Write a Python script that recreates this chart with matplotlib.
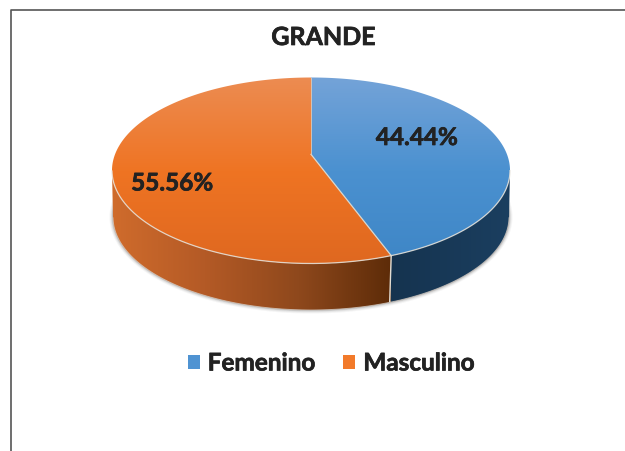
# -*- coding: utf-8 -*-
import numpy as np
from matplotlib import pyplot as plt
from matplotlib import patheffects as pe
from matplotlib.colors import LinearSegmentedColormap
from matplotlib.patches import Patch, Polygon

title = "GRANDE"
categories = ["Femenino", "Masculino"]
shares = [44.44, 55.56]
labels = ["44.44%", "55.56%"]
legend_colors = ["#4F93D2", "#F27A2A"]

top_colors = [["#74A3D8", "#4B91D0", "#3E86C6"], ["#EC8C52", "#EF7423", "#DF6820"]]
side_colors = [["#15334F", "#1B3F60"], ["#D06C2C", "#B45A26", "#8E481C", "#5C2B08"]]

# pie position on the page, in pixels
cx, cy, rx, ry = 311, 171.5, 199, 93
hub_shift = 0.174  # the centre looks higher than the ellipse middle (perspective)
depth = 46.5

plt.rcParams["font.family"] = ["Lato", "DejaVu Sans"]
plt.rcParams["font.weight"] = "bold"

# the reference text is a bit heavier than Lato Bold
thick = [pe.withStroke(linewidth=0.5, foreground="#222222")]


# turn a pie angle (degrees clockwise from the top) into a point on the rim
def rim(angle):
    t = np.radians(angle)
    x = np.sin(t)
    y = np.cos(t)
    d = 1 + hub_shift * y
    return cx + rx * x * np.sqrt(1 - hub_shift ** 2) / d, cy - ry * (y + hub_shift) / d


# fill a polygon with a gradient (vertical or horizontal)
def gradient_fill(ax, pts, colors, box, vertical=True):
    cmap = LinearSegmentedColormap.from_list("g", colors)
    ramp = np.linspace(0, 1, 256)
    ramp = ramp.reshape(-1, 1) if vertical else ramp.reshape(1, -1)
    img = ax.imshow(ramp, cmap=cmap, extent=box, aspect="auto", origin="upper", zorder=3)
    img.set_clip_path(Polygon(pts, closed=True, transform=ax.transData))


fig = plt.figure(figsize=(6.25, 4.52), dpi=100)
ax = fig.add_axes([0, 0, 1, 1])

# soft shadow under the pie
t = np.linspace(0, 2 * np.pi, 300)
for grow, alpha in zip([3.5, 2.5, 1.5, 0.7], [0.05, 0.08, 0.12, 0.2]):
    ax.fill(cx + (198 + grow) * np.cos(t), cy + depth + (ry + grow) * np.sin(t),
            color="#444444", alpha=alpha, lw=0, zorder=1)

edges = np.cumsum([0] + shares) / sum(shares) * 360
hub = (cx, cy - ry * hub_shift)

# side wall, only the front of the rim is seen
for i in range(len(shares)):
    a = np.linspace(edges[i], edges[i + 1], 200)
    x, y = rim(a)
    keep = y >= cy
    x, y = x[keep], y[keep]
    xb = cx + (x - cx) * 198 / rx
    yb = y + depth
    pts = np.column_stack([np.r_[x, xb[::-1]], np.r_[y, yb[::-1]]])
    gradient_fill(ax, pts, side_colors[i], (x.min() - 2, x.max() + 2, 320, 170), vertical=False)
    ax.plot(xb, yb, color="#D9CFC6", lw=0.7, alpha=0.7, zorder=4)

# top surface
for i in range(len(shares)):
    a = np.linspace(edges[i], edges[i + 1], 300)
    x, y = rim(a)
    pts = np.vstack([[hub], np.column_stack([x, y])])
    gradient_fill(ax, pts, top_colors[i], (100, 520, 265, 78))
    front = y >= cy
    ax.plot(x[front], y[front], color="#E8E4DC", lw=0.9, alpha=0.85, zorder=5)

# light lines at the slice borders
sx, sy = rim(edges[1])
ax.plot([hub[0], sx], [hub[1], sy], color="#D8D8D0", lw=0.9, zorder=5)
ax.plot([hub[0], hub[0]], [hub[1], cy - ry], color="#E6C9B0", lw=0.6, zorder=5)
ax.plot([sx, sx - 1.5], [sy, sy + 46], color="#E2DCD2", lw=1.0, zorder=5)

# slice labels
ax.text(416.5, 138.5, labels[0], ha="center", va="center", fontsize=17.5, color="#222222",
        zorder=6, path_effects=thick)
ax.text(172, 184, labels[1], ha="center", va="center", fontsize=17.5, color="#222222",
        zorder=6, path_effects=thick)

ax.text(323.5, 38.5, title, ha="center", va="center", fontsize=18, color="#222222",
        zorder=6, path_effects=thick)

handles = [Patch(facecolor=c, edgecolor="none") for c in legend_colors]
leg = ax.legend(handles, categories, loc="center", bbox_to_anchor=(331 / 625, 1 - 364 / 452),
                ncol=2, frameon=False, fontsize=17.5, labelcolor="#222222",
                handlelength=0.5, handleheight=0.5, handletextpad=0.33, columnspacing=1.15)
for txt in leg.get_texts():
    txt.set_path_effects(thick)

# frame of the page
ax.plot([10.5, 10.5, 625], [452, 10.5, 10.5], color="#555555", lw=1.2, zorder=6)

ax.set_xlim(0, 625)
ax.set_ylim(452, 0)
ax.axis("off")

fig.savefig("out.png", dpi=100)
